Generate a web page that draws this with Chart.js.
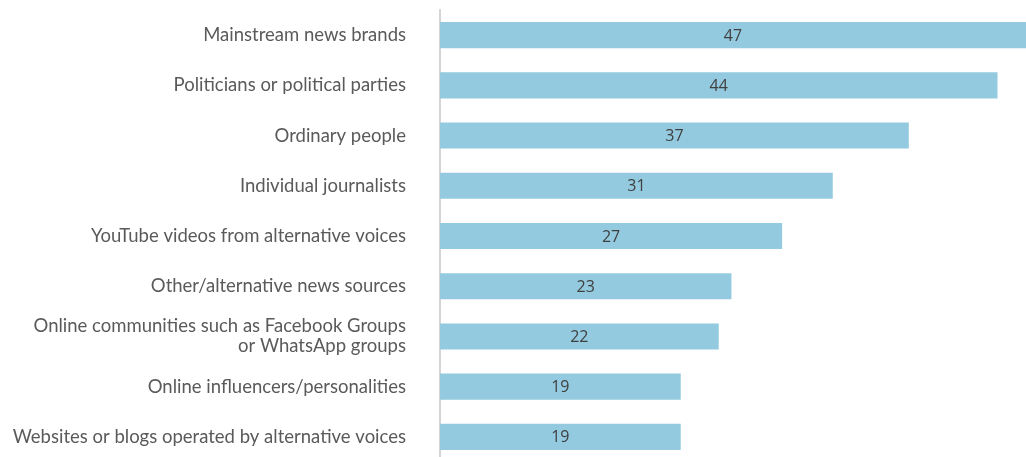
<!DOCTYPE html>
<html>
<head>
<meta charset="utf-8">
<script src="https://cdn.jsdelivr.net/npm/chart.js@4/dist/chart.umd.min.js"></script>
<style>
  html, body { margin: 0; padding: 0; background: #fff; overflow: hidden; }
  #wrap { position: relative; width: 1026px; height: 462px; }
</style>
</head>
<body>
<div id="wrap"><canvas id="chart"></canvas></div>
<script>
// Sources people pay attention to, % of respondents
const categories = [
  "Mainstream news brands",
  "Politicians or political parties",
  "Ordinary people",
  "Individual journalists",
  "YouTube videos from alternative voices",
  "Other/alternative news sources",
  ["Online communities such as Facebook Groups", "or WhatsApp groups"],
  "Online influencers/personalities",
  "Websites or blogs operated by alternative voices"
];
const values = [47, 44, 37, 31, 27, 23, 22, 19, 19];

const BAR_COLOR = "#93cadf";

// value labels centred on the visible part of each bar
const barLabels = {
  id: "barLabels",
  afterDatasetsDraw(chart) {
    const { ctx, chartArea } = chart;
    const meta = chart.getDatasetMeta(0);
    ctx.save();
    ctx.font = "16px 'Open Sans'";
    ctx.fillStyle = "#404040";
    ctx.textAlign = "center";
    ctx.textBaseline = "middle";
    meta.data.forEach((bar, i) => {
      const right = Math.min(bar.x, chartArea.right);
      const x = (bar.base + right) / 2;
      ctx.fillText(String(values[i]), x, bar.y + 1);
    });
    ctx.restore();
  }
};

new Chart(document.getElementById("chart"), {
  type: "bar",
  data: {
    labels: categories,
    datasets: [{
      data: values,
      backgroundColor: BAR_COLOR,
      borderWidth: 0,
      barPercentage: 0.52,
      categoryPercentage: 1
    }]
  },
  options: {
    indexAxis: "y",
    responsive: true,
    maintainAspectRatio: false,
    animation: false,
    layout: { padding: { top: 10, right: 0, bottom: 0, left: 0 } },
    plugins: { legend: { display: false }, tooltip: { enabled: false } },
    scales: {
      x: { display: false, min: 0, max: 46.25 },
      y: {
        afterFit(scale) {
          scale.width = 440;
          scale.paddingTop = 0;
          scale.paddingBottom = 0;
        },
        grid: { display: false, drawTicks: false },
        border: { display: true, color: "#d4d4d4", width: 2 },
        ticks: {
          padding: 34,
          color: "#5a5a5a",
          font: { family: "Lato", size: 18.5, weight: 400, lineHeight: 1.08 }
        }
      }
    }
  },
  plugins: [barLabels]
});
</script>
</body>
</html>
